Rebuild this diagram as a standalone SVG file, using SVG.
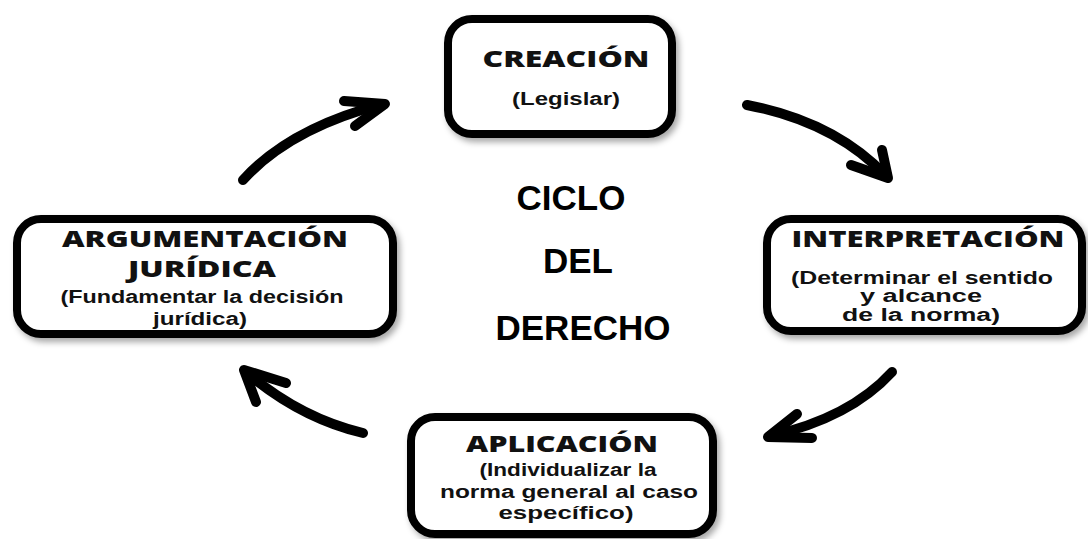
<svg xmlns="http://www.w3.org/2000/svg" width="1088" height="539" viewBox="0 0 1088 539">
<defs>
<filter id="sh" x="-10%" y="-10%" width="125%" height="130%">
<feDropShadow dx="3" dy="4" stdDeviation="3" flood-color="#000" flood-opacity="0.35"/>
</filter>
</defs>
<style>
.box{fill:#fff;stroke:#000;stroke-width:8;filter:url(#sh)}
.t{font-family:"Open Sans","Liberation Sans",sans-serif;font-weight:800;font-size:22.5px;fill:#111;text-anchor:middle}
.s{font-family:"Liberation Sans",Arial,sans-serif;font-weight:700;font-size:18px;fill:#111;text-anchor:middle}
.c{font-family:"Liberation Sans",Arial,sans-serif;font-weight:700;font-size:35px;fill:#000;text-anchor:middle}
.a{fill:none;stroke:#000;stroke-width:10;stroke-linecap:round;stroke-linejoin:round}
</style>
<rect width="1088" height="539" fill="#fff"/>
<g id="creacion">
<rect class="box" x="448" y="19" width="224" height="115" rx="24"/>
<text class="t" x="566" y="67" textLength="167" lengthAdjust="spacingAndGlyphs">CREACIÓN</text>
<text class="s" x="566" y="105" textLength="108" lengthAdjust="spacingAndGlyphs">(Legislar)</text>
</g>
<g id="argumentacion">
<rect class="box" x="17" y="219" width="376" height="115" rx="24"/>
<text class="t" x="205" y="247" textLength="286" lengthAdjust="spacingAndGlyphs">ARGUMENTACIÓN</text>
<text class="t" x="202" y="277" textLength="148" lengthAdjust="spacingAndGlyphs">JURÍDICA</text>
<text class="s" x="202" y="303" textLength="283" lengthAdjust="spacingAndGlyphs">(Fundamentar la decisión</text>
<text class="s" x="200" y="325" textLength="94" lengthAdjust="spacingAndGlyphs">jurídica)</text>
</g>
<g id="interpretacion">
<rect class="box" x="767" y="219" width="315" height="112" rx="24"/>
<text class="t" x="928" y="247" textLength="273" lengthAdjust="spacingAndGlyphs">INTERPRETACIÓN</text>
<text class="s" x="922" y="284" textLength="262" lengthAdjust="spacingAndGlyphs">(Determinar el sentido</text>
<text class="s" x="921" y="302" textLength="122" lengthAdjust="spacingAndGlyphs">y alcance</text>
<text class="s" x="921" y="321" textLength="158" lengthAdjust="spacingAndGlyphs">de la norma)</text>
</g>
<g id="aplicacion">
<rect class="box" x="411" y="417" width="302" height="117" rx="24"/>
<text class="t" x="562" y="452" textLength="192" lengthAdjust="spacingAndGlyphs">APLICACIÓN</text>
<text class="s" x="568" y="476" textLength="177" lengthAdjust="spacingAndGlyphs">(Individualizar la</text>
<text class="s" x="569" y="498" textLength="258" lengthAdjust="spacingAndGlyphs">norma general al caso</text>
<text class="s" x="566" y="519" textLength="135" lengthAdjust="spacingAndGlyphs">específico)</text>
</g>
<g id="titulo">
<text class="c" x="571" y="210">CICLO</text>
<text class="c" x="578" y="273">DEL</text>
<text class="c" x="583" y="340">DERECHO</text>
</g>
<g id="connectors">
<path class="a" d="M243,180 Q290,128 383,104"/>
<polyline class="a" points="344,101 385,104 355,126"/>
<path class="a" d="M747,105 Q835,122 886,176"/>
<polyline class="a" points="882,150 888,178 851,165"/>
<path class="a" d="M892,372 Q850,418 770,436"/>
<polyline class="a" points="797,414 768,437 812,438"/>
<path class="a" d="M363,433 Q300,418 246,372"/>
<polyline class="a" points="286,383 244,370 256,402"/>
</g>
</svg>
